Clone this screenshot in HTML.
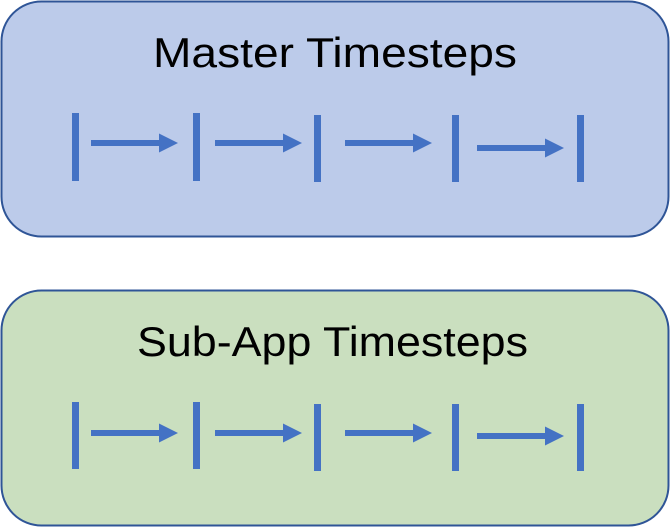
<!DOCTYPE html>
<html><head><meta charset="utf-8"><style>
html,body{margin:0;padding:0;background:#fff;width:670px;height:527px;overflow:hidden}
svg{display:block}
</style></head><body>
<svg width="670" height="527" viewBox="0 0 670 527" xmlns="http://www.w3.org/2000/svg">
<defs>
<g id="arr"><rect x="0" y="-3" width="70" height="6"/><polygon points="68,-9.5 87,0 68,9.5"/></g>
</defs>
<rect x="1.5" y="1.5" width="667" height="235" rx="40" fill="#bccbea" stroke="#2f5597" stroke-width="2"/>
<rect x="1.5" y="290.5" width="667" height="235" rx="40" fill="#cadfbf" stroke="#2f5597" stroke-width="2"/>
<text x="153" y="67" textLength="364" lengthAdjust="spacingAndGlyphs" font-family="Liberation Sans, sans-serif" font-size="42" fill="#000">Master Timesteps</text>
<text x="137" y="356" textLength="391" lengthAdjust="spacingAndGlyphs" font-family="Liberation Sans, sans-serif" font-size="42" fill="#000">Sub-App Timesteps</text>
<g fill="#4472c4">
<rect x="72" y="113" width="7" height="68"/>
<rect x="193" y="113" width="7" height="68"/>
<rect x="314" y="115" width="7" height="67"/>
<rect x="452" y="115" width="7" height="67"/>
<rect x="577" y="115" width="7" height="67"/>
<use href="#arr" x="91" y="143"/>
<use href="#arr" x="215" y="143"/>
<use href="#arr" x="345" y="143"/>
<use href="#arr" x="477" y="148"/>
<rect x="72" y="402" width="7" height="67"/>
<rect x="193" y="402" width="7" height="67"/>
<rect x="314" y="404" width="7" height="67"/>
<rect x="452" y="404" width="7" height="67"/>
<rect x="577" y="404" width="7" height="67"/>
<use href="#arr" x="91" y="433"/>
<use href="#arr" x="215" y="433"/>
<use href="#arr" x="345" y="433"/>
<use href="#arr" x="477" y="436"/>
</g>
</svg>
</body></html>
